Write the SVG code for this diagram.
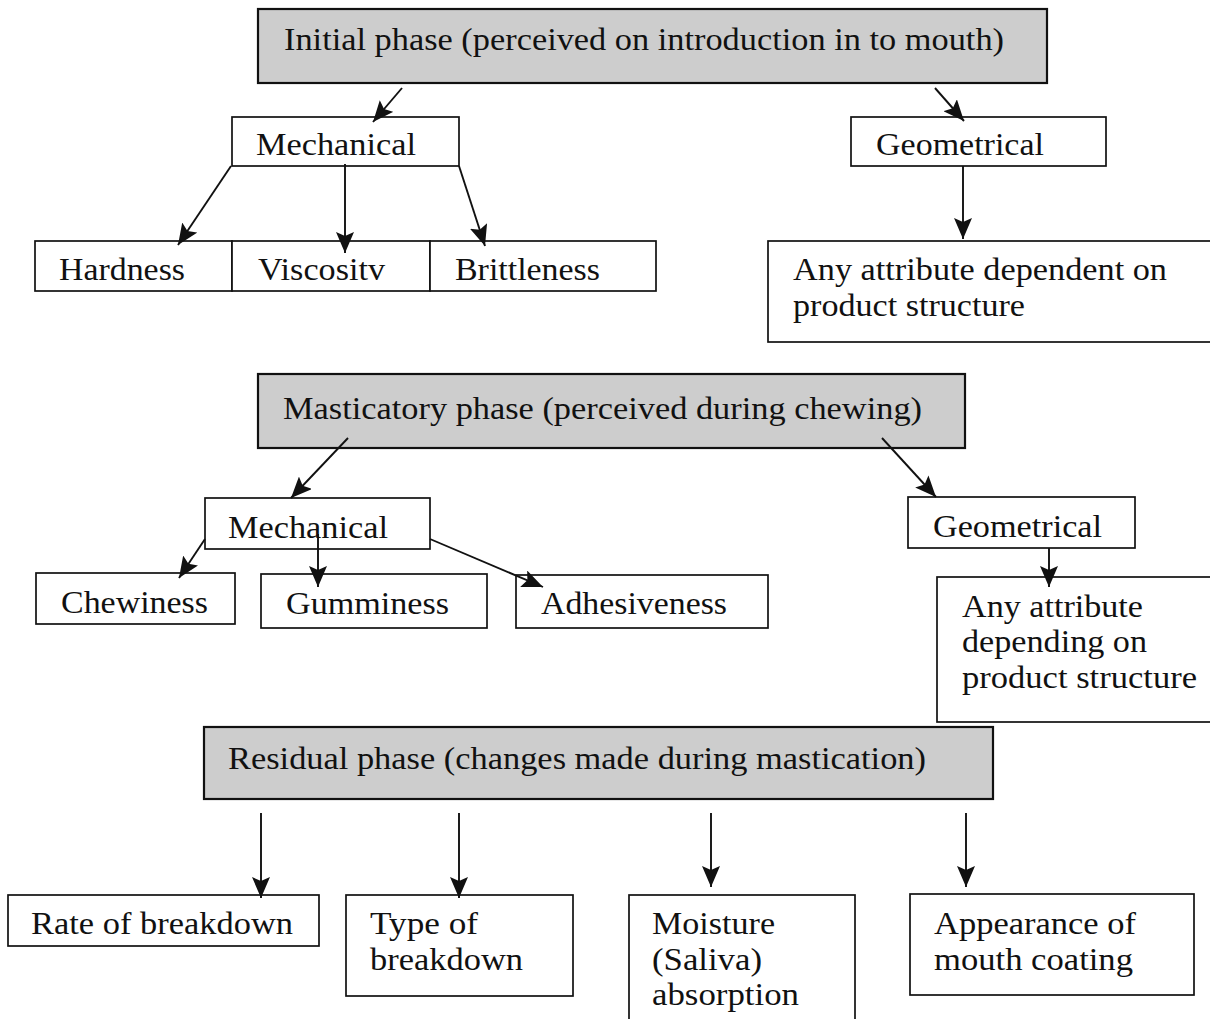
<svg xmlns="http://www.w3.org/2000/svg" width="1210" height="1019" viewBox="0 0 1210 1019">
<style>
.box{fill:#ffffff;stroke:#111;stroke-width:1.7}
.phase{fill:#cdcdcd;stroke:#111;stroke-width:2.2}
text{font-family:"Liberation Serif","Times New Roman",serif;font-size:31px;fill:#111}
.conn line{stroke:#111;stroke-width:1.9;marker-end:url(#ah)}
</style>
<defs>
<marker id="ah" markerUnits="userSpaceOnUse" markerWidth="24" markerHeight="18" refX="21" refY="9" orient="auto">
<path d="M0,0 L21,9 L0,18 L4,9 z" fill="#111"/>
</marker>
</defs>
<rect width="1210" height="1019" fill="#ffffff"/>

<g id="initial-phase"><rect class="phase" x="258" y="9" width="789" height="74"/><text x="284" y="50" textLength="720" lengthAdjust="spacingAndGlyphs">Initial phase (perceived on introduction in to mouth)</text></g>
<g id="mech1"><rect class="box" x="232" y="117" width="227" height="49"/><text x="256" y="155" textLength="160" lengthAdjust="spacingAndGlyphs">Mechanical</text></g>
<g id="geom1"><rect class="box" x="851" y="117" width="255" height="49"/><text x="876" y="155" textLength="168" lengthAdjust="spacingAndGlyphs">Geometrical</text></g>
<g id="hardness"><rect class="box" x="35" y="241" width="197" height="50"/><text x="59" y="280" textLength="126" lengthAdjust="spacingAndGlyphs">Hardness</text></g>
<g id="viscosity"><rect class="box" x="232" y="241" width="198" height="50"/><text x="258" y="280" textLength="127" lengthAdjust="spacingAndGlyphs">Viscositv</text></g>
<g id="brittleness"><rect class="box" x="430" y="241" width="226" height="50"/><text x="455" y="280" textLength="145" lengthAdjust="spacingAndGlyphs">Brittleness</text></g>
<g id="attr1"><rect class="box" x="768" y="241" width="450" height="101"/><text x="793" y="280" textLength="374" lengthAdjust="spacingAndGlyphs">Any attribute dependent on</text><text x="793" y="316" textLength="232" lengthAdjust="spacingAndGlyphs">product structure</text></g>

<g id="masticatory-phase"><rect class="phase" x="258" y="374" width="707" height="74"/><text x="283" y="419" textLength="639" lengthAdjust="spacingAndGlyphs">Masticatory phase (perceived during chewing)</text></g>
<g id="mech2"><rect class="box" x="205" y="498" width="225" height="51"/><text x="228" y="538" textLength="160" lengthAdjust="spacingAndGlyphs">Mechanical</text></g>
<g id="geom2"><rect class="box" x="908" y="497" width="227" height="51"/><text x="933" y="537" textLength="169" lengthAdjust="spacingAndGlyphs">Geometrical</text></g>
<g id="chewiness"><rect class="box" x="36" y="573" width="199" height="51"/><text x="61" y="613" textLength="147" lengthAdjust="spacingAndGlyphs">Chewiness</text></g>
<g id="gumminess"><rect class="box" x="261" y="574" width="226" height="54"/><text x="286" y="614" textLength="163" lengthAdjust="spacingAndGlyphs">Gumminess</text></g>
<g id="adhesiveness"><rect class="box" x="516" y="575" width="252" height="53"/><text x="541" y="614" textLength="186" lengthAdjust="spacingAndGlyphs">Adhesiveness</text></g>
<g id="attr2"><rect class="box" x="937" y="577" width="280" height="145"/><text x="962" y="617" textLength="181" lengthAdjust="spacingAndGlyphs">Any attribute</text><text x="962" y="652" textLength="185" lengthAdjust="spacingAndGlyphs">depending on</text><text x="962" y="688" textLength="235" lengthAdjust="spacingAndGlyphs">product structure</text></g>

<g id="residual-phase"><rect class="phase" x="204" y="727" width="789" height="72"/><text x="228" y="769" textLength="698" lengthAdjust="spacingAndGlyphs">Residual phase (changes made during mastication)</text></g>
<g id="rate"><rect class="box" x="8" y="895" width="311" height="51"/><text x="31" y="934" textLength="262" lengthAdjust="spacingAndGlyphs">Rate of breakdown</text></g>
<g id="type"><rect class="box" x="346" y="895" width="227" height="101"/><text x="370" y="934" textLength="108" lengthAdjust="spacingAndGlyphs">Type of</text><text x="370" y="970" textLength="153" lengthAdjust="spacingAndGlyphs">breakdown</text></g>
<g id="moisture"><rect class="box" x="629" y="895" width="226" height="130"/><text x="652" y="934" textLength="123" lengthAdjust="spacingAndGlyphs">Moisture</text><text x="652" y="970" textLength="110" lengthAdjust="spacingAndGlyphs">(Saliva)</text><text x="652" y="1005" textLength="147" lengthAdjust="spacingAndGlyphs">absorption</text></g>
<g id="appearance"><rect class="box" x="910" y="894" width="284" height="101"/><text x="934" y="934" textLength="202" lengthAdjust="spacingAndGlyphs">Appearance of</text><text x="934" y="970" textLength="199" lengthAdjust="spacingAndGlyphs">mouth coating</text></g>

<g id="connectors" class="conn">
<line x1="402" y1="88" x2="373" y2="122"/>
<line x1="935" y1="88" x2="964" y2="121"/>
<line x1="963" y1="166" x2="963" y2="239"/>
<line x1="231" y1="166" x2="178" y2="245"/>
<line x1="345" y1="164" x2="345" y2="253"/>
<line x1="459" y1="166" x2="485" y2="246"/>
<line x1="348" y1="438" x2="291" y2="498"/>
<line x1="882" y1="438" x2="936" y2="497"/>
<line x1="1049" y1="548" x2="1049" y2="587"/>
<line x1="205" y1="539" x2="179" y2="578"/>
<line x1="318" y1="534" x2="318" y2="587"/>
<line x1="430" y1="539" x2="543" y2="587"/>
<line x1="261" y1="813" x2="261" y2="898"/>
<line x1="459" y1="813" x2="459" y2="898"/>
<line x1="711" y1="813" x2="711" y2="887"/>
<line x1="966" y1="813" x2="966" y2="887"/>
</g>
</svg>
